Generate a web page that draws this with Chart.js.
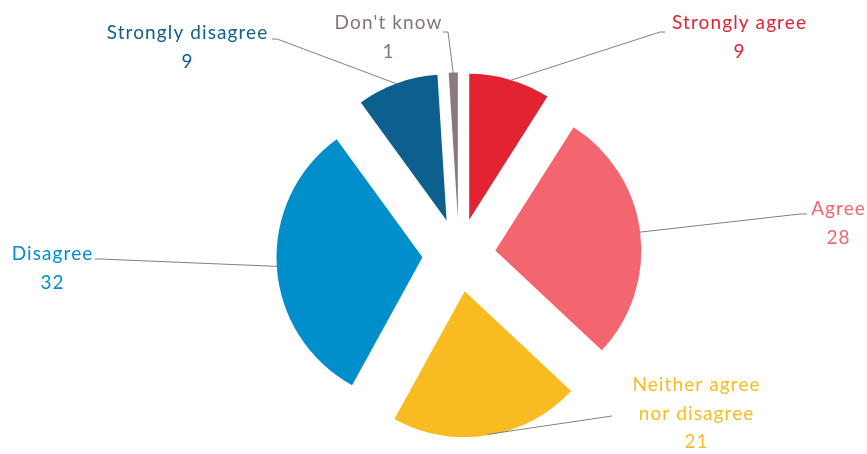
<!DOCTYPE html>
<html>
<head>
<meta charset="utf-8">
<script src="https://cdn.jsdelivr.net/npm/chart.js@4/dist/chart.umd.min.js"></script>
<style>
  html, body { margin: 0; padding: 0; background: #ffffff; }
  #wrap { position: relative; width: 867px; height: 454px; }
</style>
</head>
<body>
<div id="wrap"><canvas id="c" width="867" height="454"></canvas></div>
<script>
// ---- data ----
const categories = ["Strongly agree", "Agree", "Neither agree nor disagree", "Disagree", "Strongly disagree", "Don't know"];
const labelLines = [["Strongly agree"], ["Agree"], ["Neither agree", "nor disagree"], ["Disagree"], ["Strongly disagree"], ["Don't know"]];
const values = [9, 28, 21, 32, 9, 1];
const sliceColors = ["#E32232", "#F4666F", "#F9BB22", "#008FCA", "#0D5F8F", "#8A7A7C"];
const textColors = ["#E32232", "#F4666F", "#F9BB22", "#008FCA", "#0D5F8F", "#857577"];

// ---- label layout (text centre x, first baseline y, stub end, elbow) ----
const labelLayout = [
  { cx: 739, y: 29, stub: [665, 32], elbow: [660, 32] },
  { cx: 838, y: 215, stub: [807, 214], elbow: [800, 214] },
  { cx: 696, y: 391, stub: [612, 416], elbow: [612, 416] },
  { cx: 52, y: 260, stub: [95, 259], elbow: [100, 259] },
  { cx: 187, y: 39, stub: [272, 39], elbow: [277, 39] },
  { cx: 388, y: 29, stub: [443, 32], elbow: [448, 32] }
];

const EXPLODE = 36.6;   // px each slice is pulled out
const RADIUS = 146;
const FONT = '19px Lato';
const LETTER_SPACING = 1.1;
const LINE_H = 28.5;

const explodePlugin = {
  id: 'explode',
  beforeDatasetDraw(chart, args) {
    const ctx = chart.ctx;
    args.meta.data.forEach(arc => {
      const mid = (arc.startAngle + arc.endAngle) / 2;
      ctx.save();
      ctx.translate(Math.cos(mid) * EXPLODE, Math.sin(mid) * EXPLODE);
      arc.draw(ctx, chart.chartArea);
      ctx.restore();
    });
    return false;
  }
};

const labelPlugin = {
  id: 'calloutLabels',
  afterDatasetsDraw(chart) {
    const ctx = chart.ctx;
    const meta = chart.getDatasetMeta(0);
    meta.data.forEach((arc, i) => {
      const mid = (arc.startAngle + arc.endAngle) / 2;
      const r = arc.outerRadius - 1;
      const ax = arc.x + Math.cos(mid) * (EXPLODE + r);
      const ay = arc.y + Math.sin(mid) * (EXPLODE + r);
      const L = labelLayout[i];
      ctx.save();
      ctx.strokeStyle = '#808080';
      ctx.lineWidth = 1;
      ctx.beginPath();
      ctx.moveTo(ax, ay);
      ctx.lineTo(L.elbow[0], L.elbow[1]);
      ctx.lineTo(L.stub[0], L.stub[1]);
      ctx.stroke();
      ctx.fillStyle = textColors[i];
      ctx.font = FONT;
      ctx.textAlign = 'center';
      ctx.textBaseline = 'alphabetic';
      if ('letterSpacing' in ctx) ctx.letterSpacing = LETTER_SPACING + 'px';
      const lines = labelLines[i].concat([String(values[i])]);
      lines.forEach((t, k) => ctx.fillText(t, L.cx + LETTER_SPACING / 2, L.y + k * LINE_H));
      ctx.restore();
    });
  }
};

new Chart(document.getElementById('c'), {
  type: 'pie',
  data: {
    labels: categories,
    datasets: [{
      data: values,
      backgroundColor: sliceColors,
      borderWidth: 0,
      offset: 0,
      hoverOffset: 0
    }]
  },
  options: {
    responsive: false,
    animation: false,
    radius: RADIUS,
    layout: { padding: { left: 51, right: 0, top: 56, bottom: 0 } },
    plugins: { legend: { display: false }, tooltip: { enabled: false } },
    events: []
  },
  plugins: [explodePlugin, labelPlugin]
});
</script>
</body>
</html>
